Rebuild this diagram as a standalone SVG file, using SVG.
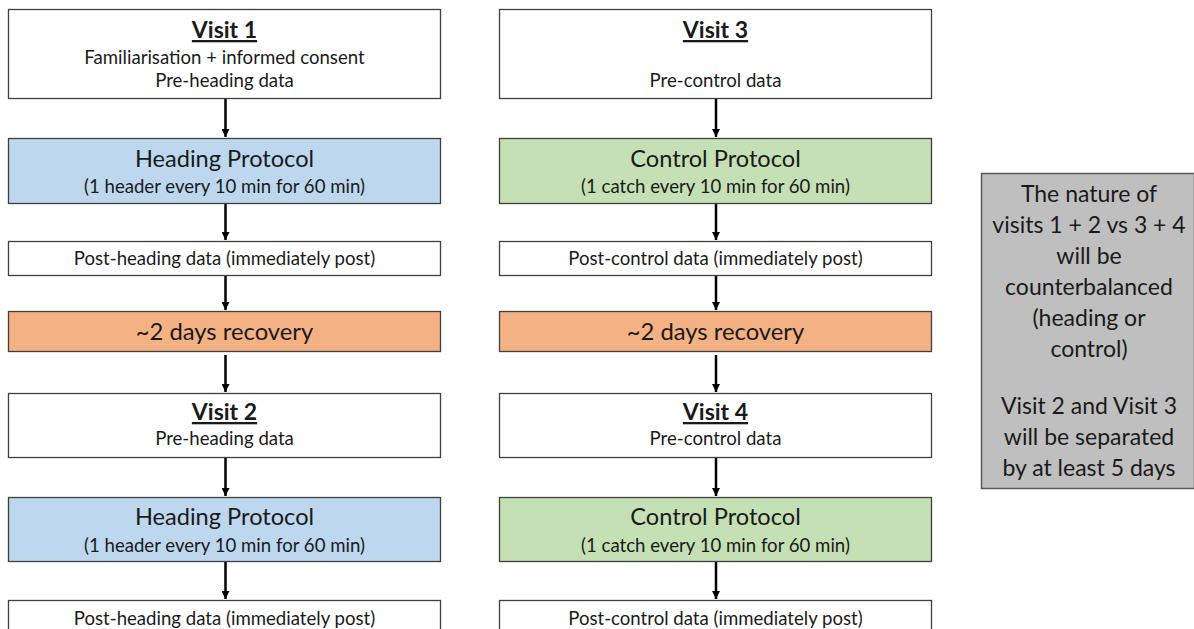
<svg xmlns="http://www.w3.org/2000/svg" width="1194" height="629" viewBox="0 0 1194 629">
<style>
text{font-family:Lato,"Open Sans","Liberation Sans",sans-serif;fill:#1a1a1a;text-anchor:middle}
.box{stroke:#404040;stroke-width:1.3}
.w{fill:#ffffff}
.b{fill:#bdd7ee}
.g{fill:#c5e0b4}
.o{fill:#f4b183}
.t{font-size:23px;font-weight:bold;text-decoration:underline}
.s{font-size:18.6px}
.m{font-size:23.6px}
.r{font-size:23.8px}
.n{font-size:23px}
.c line{stroke:#000;stroke-width:2.5}
</style>
<defs>
<marker id="ah" viewBox="0 0 10 10" refX="10" refY="5" markerWidth="3.6" markerHeight="3.2" orient="auto" markerUnits="strokeWidth">
<path d="M0,0 L10,5 L0,10 z" fill="#000"/>
</marker>
</defs>
<rect width="1194" height="629" fill="#fff"/>
<g class="c" id="connectors">
<line x1="225.5" y1="99" x2="225.5" y2="137" marker-end="url(#ah)"/>
<line x1="225.5" y1="204" x2="225.5" y2="240" marker-end="url(#ah)"/>
<line x1="225.5" y1="276" x2="225.5" y2="310" marker-end="url(#ah)"/>
<line x1="225.5" y1="355" x2="225.5" y2="392" marker-end="url(#ah)"/>
<line x1="225.5" y1="458" x2="225.5" y2="496" marker-end="url(#ah)"/>
<line x1="225.5" y1="562" x2="225.5" y2="599" marker-end="url(#ah)"/>
<line x1="716" y1="99" x2="716" y2="137" marker-end="url(#ah)"/>
<line x1="716" y1="204" x2="716" y2="240" marker-end="url(#ah)"/>
<line x1="716" y1="276" x2="716" y2="310" marker-end="url(#ah)"/>
<line x1="716" y1="355" x2="716" y2="392" marker-end="url(#ah)"/>
<line x1="716" y1="458" x2="716" y2="496" marker-end="url(#ah)"/>
<line x1="716" y1="562" x2="716" y2="599" marker-end="url(#ah)"/>
</g>
<g id="visit1"><rect class="box w" x="8.5" y="9.5" width="432" height="89"/>
<text class="t" x="224.5" y="38">Visit 1</text>
<text class="s" x="224.5" y="64">Familiarisation + informed consent</text>
<text class="s" x="224.5" y="87">Pre-heading data</text></g>
<g id="heading1"><rect class="box b" x="8.5" y="138.5" width="432" height="65"/>
<text class="m" x="224.5" y="167">Heading Protocol</text>
<text class="s" x="224.5" y="193">(1 header every 10 min for 60 min)</text></g>
<g id="postheading1"><rect class="box w" x="8.5" y="241.5" width="432" height="34"/>
<text class="s" x="224.5" y="265">Post-heading data (immediately post)</text></g>
<g id="recovery1"><rect class="box o" x="8.5" y="311.5" width="432" height="40"/>
<text class="r" x="224.5" y="340">~2 days recovery</text></g>
<g id="visit2"><rect class="box w" x="8.5" y="393.5" width="432" height="64"/>
<text class="t" x="224.5" y="420">Visit 2</text>
<text class="s" x="224.5" y="445">Pre-heading data</text></g>
<g id="heading2"><rect class="box b" x="8.5" y="497.5" width="432" height="64"/>
<text class="m" x="224.5" y="525">Heading Protocol</text>
<text class="s" x="224.5" y="552">(1 header every 10 min for 60 min)</text></g>
<g id="postheading2"><rect class="box w" x="8.5" y="600.5" width="432" height="40"/>
<text class="s" x="224.5" y="625">Post-heading data (immediately post)</text></g>

<g id="visit3"><rect class="box w" x="499.5" y="9.5" width="432" height="89"/>
<text class="t" x="715.5" y="38">Visit 3</text>
<text class="s" x="715.5" y="87">Pre-control data</text></g>
<g id="control1"><rect class="box g" x="499.5" y="138.5" width="432" height="65"/>
<text class="m" x="715.5" y="167">Control Protocol</text>
<text class="s" x="715.5" y="193">(1 catch every 10 min for 60 min)</text></g>
<g id="postcontrol1"><rect class="box w" x="499.5" y="241.5" width="432" height="34"/>
<text class="s" x="715.5" y="265">Post-control data (immediately post)</text></g>
<g id="recovery2"><rect class="box o" x="499.5" y="311.5" width="432" height="40"/>
<text class="r" x="715.5" y="340">~2 days recovery</text></g>
<g id="visit4"><rect class="box w" x="499.5" y="393.5" width="432" height="64"/>
<text class="t" x="715.5" y="420">Visit 4</text>
<text class="s" x="715.5" y="445">Pre-control data</text></g>
<g id="control2"><rect class="box g" x="499.5" y="497.5" width="432" height="64"/>
<text class="m" x="715.5" y="525">Control Protocol</text>
<text class="s" x="715.5" y="552">(1 catch every 10 min for 60 min)</text></g>
<g id="postcontrol2"><rect class="box w" x="499.5" y="600.5" width="432" height="40"/>
<text class="s" x="715.5" y="625">Post-control data (immediately post)</text></g>

<g id="note"><rect x="981.5" y="173.5" width="213" height="315" fill="#bfbfbf" stroke="#595959" stroke-width="1.5"/>
<text class="n" x="1089" y="202">The nature of</text>
<text class="n" x="1089" y="233">visits 1 + 2 vs 3 + 4</text>
<text class="n" x="1089" y="264">will be</text>
<text class="n" x="1089" y="295">counterbalanced</text>
<text class="n" x="1089" y="326">(heading or</text>
<text class="n" x="1089" y="357">control)</text>
<text class="n" x="1089" y="414">Visit 2 and Visit 3</text>
<text class="n" x="1089" y="445">will be separated</text>
<text class="n" x="1089" y="476">by at least 5 days</text></g>
</svg>
